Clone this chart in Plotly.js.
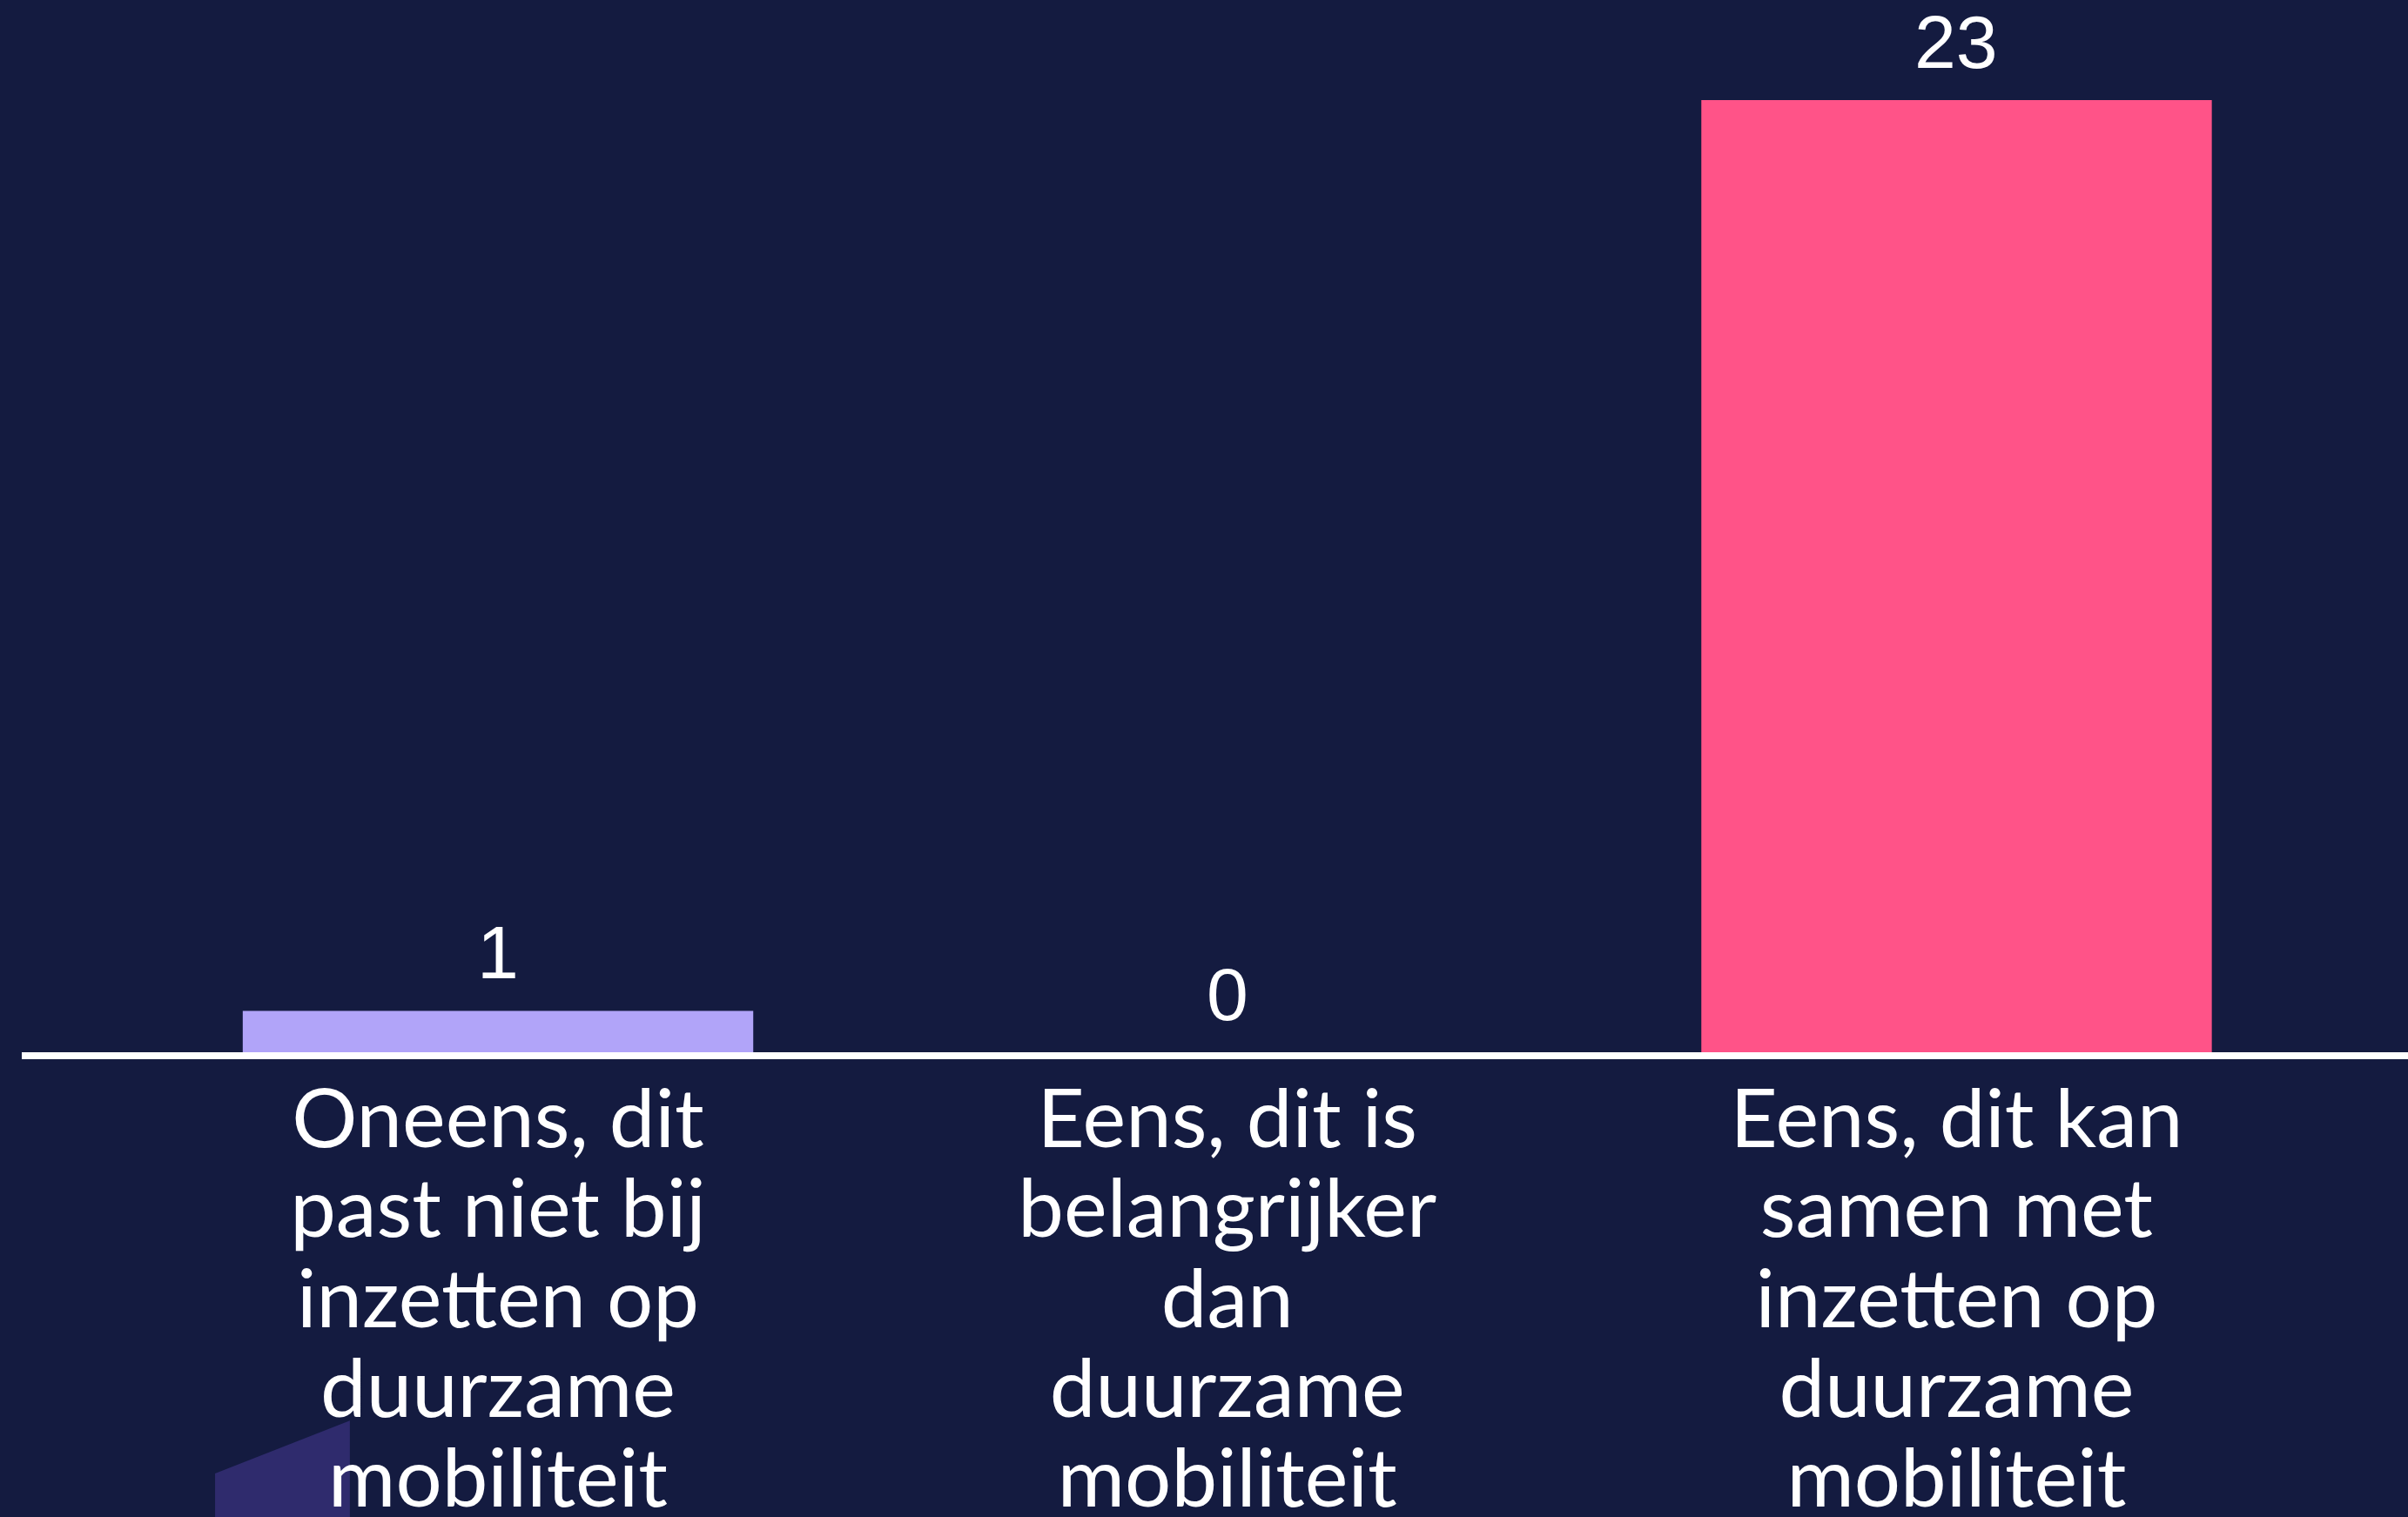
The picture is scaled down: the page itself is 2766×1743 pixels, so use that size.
<!DOCTYPE html>
<html>
<head>
<meta charset="utf-8">
<script src="https://cdn.plot.ly/plotly-3.0.1.min.js"></script>
<style>
html,body{margin:0;padding:0;background:#141B40;}
#chart{width:2766px;height:1743px;}
</style>
</head>
<body>
<div id="chart"></div>
<script>
// ---- data ----
const categories = [
  "Oneens, dit past niet bij inzetten op duurzame mobiliteit",
  "Eens, dit is belangrijker dan duurzame mobiliteit",
  "Eens, dit kan samen met inzetten op duurzame mobiliteit"
];
const tickLabels = [
  "Oneens, dit<br>past niet bij<br>inzetten op<br>duurzame<br>mobiliteit",
  "Eens, dit is<br>belangrijker<br>dan<br>duurzame<br>mobiliteit",
  "Eens, dit kan<br>samen met<br>inzetten op<br>duurzame<br>mobiliteit"
];
const values = [1, 0, 23];
const barColors = ["#B1A4F9", "#B1A4F9", "#FF5388"];

// ---- style ----
const BG = "#141B40";
const LABEL_LINE_SPACING = 1.1;

const trace = {
  type: "bar",
  x: categories,
  y: values,
  marker: { color: barColors, line: { width: 0 } },
  hoverinfo: "skip"
};

const annotations = categories.map((c, i) => ({
  x: c,
  y: values[i],
  xref: "x",
  yref: "y",
  text: String(values[i]),
  showarrow: false,
  yanchor: "bottom",
  yshift: 17,
  font: { family: "Liberation Sans, Arial, sans-serif", size: 86, color: "#FFFFFF" }
}));

const layout = {
  width: 2766,
  height: 1743,
  paper_bgcolor: BG,
  plot_bgcolor: BG,
  margin: { l: 25, r: 0, t: 0, b: 534, pad: 0 },
  bargap: 0.3,
  showlegend: false,
  hovermode: false,
  xaxis: {
    type: "category",
    range: [-0.653, 2.619],
    tickvals: categories,
    ticktext: tickLabels,
    tickangle: 0,
    showline: true,
    linecolor: "#FFFFFF",
    linewidth: 8,
    ticks: "",
    ticklabelstandoff: -12,
    showgrid: false,
    zeroline: false,
    automargin: false,
    tickfont: { family: "Lato, sans-serif", size: 94, color: "#FFFFFF" }
  },
  yaxis: {
    range: [0, 25.42],
    visible: false,
    showgrid: false,
    zeroline: false
  },
  annotations: annotations,
  shapes: [{
    type: "path",
    xref: "paper",
    yref: "paper",
    layer: "below",
    path: "M 0.081,-0.4003 L 0.1375,-0.350 L 0.1375,-0.4417 L 0.081,-0.4417 Z",
    fillcolor: "#2F2B6D",
    line: { width: 0 }
  }]
};

Plotly.newPlot("chart", [trace], layout, { displayModeBar: false, staticPlot: true }).then(gd => {
  gd.querySelectorAll(".xtick text").forEach(t => {
    t.querySelectorAll("tspan.line").forEach(ts => {
      const dy = parseFloat(ts.getAttribute("dy"));
      if (!isNaN(dy)) ts.setAttribute("dy", (dy / 1.3 * LABEL_LINE_SPACING) + "em");
    });
  });
});
</script>
</body>
</html>
